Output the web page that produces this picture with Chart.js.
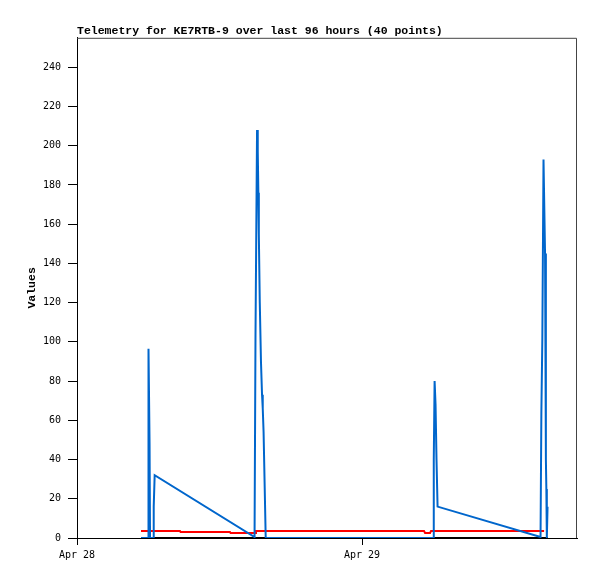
<!DOCTYPE html>
<html>
<head>
<meta charset="utf-8">
<script src="https://cdn.jsdelivr.net/npm/chart.js@4.4.1/dist/chart.umd.min.js"></script>
<style>
  html, body { margin: 0; padding: 0; background: #fff; }
  canvas { display: block; }
</style>
</head>
<body>
<canvas id="myChart" width="597" height="579"></canvas>
<script>
// Data (hours since Apr 28 00:00)

const dayHours = [0, 24];
const dayLabels = ["Apr 28", "Apr 29"];

const blueHours = [5.39, 5.98, 6.02, 6.11, 6.15, 6.40, 6.46, 6.54,
    14.95, 15.03, 15.16, 15.22, 15.27, 15.31, 15.39, 15.49, 15.58, 15.64, 15.71, 15.81, 15.89,
    29.47, 29.98, 30.04, 30.11, 30.19, 30.27, 30.36,
    39.03, 39.10, 39.18, 39.28, 39.41, 39.48, 39.52, 39.56, 39.62];
const blueValues = [0, 0, 96.5, 48, 0, 0, 16, 32,
    0.5, 104, 208, 197, 176, 155, 120, 90, 73, 66, 54, 24, 0,
    0, 0, 40, 80, 68, 40, 16,
    0.5, 64, 101, 193, 145, 40, 25, 0, 16];

const redHours = [5.39, 8.67, 8.72, 12.88, 12.93, 14.99, 15.07, 29.22, 29.31, 29.73, 29.81, 39.33];
const redValues = [3.6, 3.6, 3.1, 3.1, 2.6, 2.6, 3.6, 3.6, 2.6, 2.6, 3.6, 3.6];

const blackHours = [5.39, 39.64];
const blackValues = [0, 0];

const toPoints = (xs, ys) => xs.map((x, i) => ({ x, y: ys[i] }));

// Setup

const data = {
    datasets: [
        {
            data: toPoints(blueHours, blueValues),
            borderColor: "#0066cc",
            borderWidth: 2,
            pointRadius: 0,
            tension: 0
        },
        {
            data: toPoints(redHours, redValues),
            borderColor: "#ff0000",
            borderWidth: 2,
            pointRadius: 0,
            tension: 0
        },
        {
            data: toPoints(blackHours, blackValues),
            borderColor: "#000000",
            borderWidth: 2,
            pointRadius: 0,
            tension: 0
        }
    ]
};

const frame = {
    id: "frame",
    afterDatasetsDraw(chart) {
        const { ctx, chartArea: a } = chart;
        ctx.save();
        ctx.strokeStyle = "#444";
        ctx.lineWidth = 1;
        ctx.beginPath();
        ctx.moveTo(a.left, a.top + 0.5);
        ctx.lineTo(a.right - 0.5, a.top + 0.5);
        ctx.lineTo(a.right - 0.5, a.bottom);
        ctx.stroke();
        ctx.restore();
    }
};

const tickFont = { family: "'DejaVu Sans Mono', monospace", size: 10 };
const boldFont = { family: "'Liberation Mono', monospace", size: 11.5, weight: "bold" };

// Config

const config = {
    type: "line",
    data,
    options: {
        responsive: false,
        animation: false,
        layout: { padding: { left: 0, top: 0, right: 20, bottom: 0 } },
        plugins: {
            legend: { display: false },
            tooltip: { enabled: false },
            title: {
                display: true,
                text: "Telemetry for KE7RTB-9 over last 96 hours (40 points)",
                align: "start",
                fullSize: false,
                color: "#000",
                font: boldFont,
                padding: { top: 24, bottom: 0 }
            }
        },
        scales: {
            x: {
                type: "linear",
                min: 0,
                max: 42.1,
                afterBuildTicks: axis => {
                    axis.ticks = dayHours.map(v => ({ value: v }));
                },
                afterFit: axis => { axis.height = 41; },
                ticks: {
                    color: "#000",
                    font: tickFont,
                    padding: 4,
                    maxRotation: 0,
                    callback: v => dayLabels[dayHours.indexOf(v)]
                },
                grid: {
                    drawOnChartArea: false,
                    tickLength: 7,
                    color: "#000"
                },
                border: { color: "#000", width: 1 }
            },
            y: {
                min: 0,
                max: 255,
                afterBuildTicks: axis => {
                    axis.ticks = axis.ticks.filter(t => t.value % 20 === 0);
                },
                afterFit: axis => { axis.width = 77; },
                ticks: {
                    stepSize: 20,
                    color: "#000",
                    font: tickFont,
                    padding: 7
                },
                grid: {
                    drawOnChartArea: false,
                    tickLength: 9,
                    color: "#000"
                },
                border: { color: "#000", width: 1 },
                title: {
                    display: true,
                    text: "Values",
                    color: "#000",
                    font: boldFont,
                    padding: { top: 25, bottom: 0 }
                }
            }
        }
    },
    plugins: [frame]
};

// Render init block

const myChart = new Chart(document.getElementById("myChart"), config);
</script>
</body>
</html>
